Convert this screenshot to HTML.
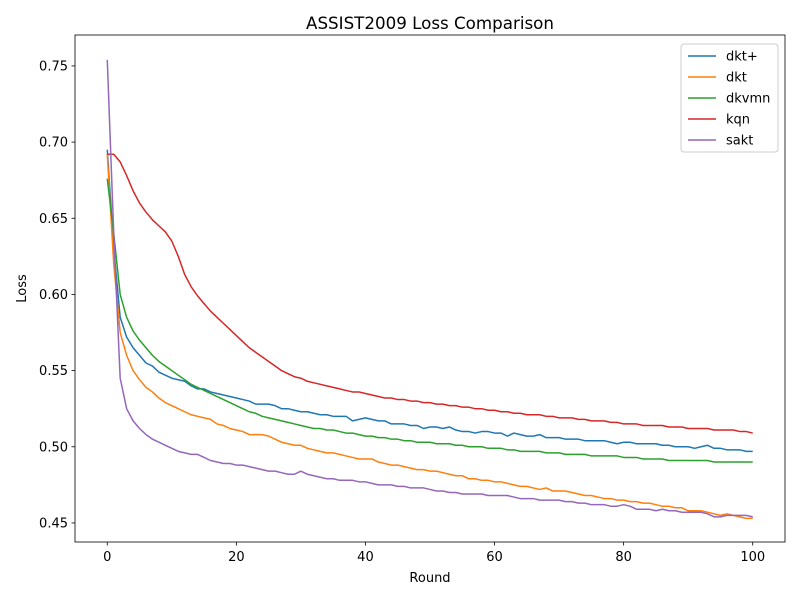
<!DOCTYPE html>
<html><head><meta charset="utf-8"><style>
body{margin:0;background:#fff;}
svg{display:block;font-family:"DejaVu Sans","Liberation Sans",sans-serif;}
</style></head><body>
<svg id="chart" width="800" height="600"></svg>
<script>
const rounds = Array.from({length:101},(_,i)=>i);
const seriesNames = ["dkt+","dkt","dkvmn","kqn","sakt"];
const seriesColors = ["#1f77b4","#ff7f0e","#2ca02c","#d62728","#9467bd"];
const dktPlus = [0.695,0.63,0.585,0.572,0.565,0.56,0.555,0.553,0.549,0.547,0.545,0.544,0.543,0.540,0.538,0.538,0.536,0.535,0.534,0.533,0.532,0.531,0.530,0.528,0.528,0.528,0.527,0.525,0.525,0.524,0.523,
.523,.522,.521,.521,.520,.520,.520,.517,.518,.519,.518,.517,.517,.515,.515,.515,.514,.514,.512,.513,.513,.512,.513,.511,.510,.510,.509,.510,.510,.509,.509,.507,.509,.508,.507,.507,.508,.506,.506,.506,.505,.505,.505,.504,.504,.504,.504,.503,.502,.503,.503,.502,.502,.502,.502,.501,.501,.500,.500,.500,.499,.500,.501,.499,.499,.498,.498,.498,.497,.497];
const dkt = [0.692,0.62,0.575,0.56,0.55,0.544,0.539,0.536,0.532,0.529,0.527,0.525,0.523,0.521,0.520,0.519,0.518,0.515,0.514,0.512,0.511,0.510,0.508,0.508,0.508,0.507,0.505,0.503,0.502,0.501,0.501,
.499,.498,.497,.496,.496,.495,.494,.493,.492,.492,.492,.490,.489,.488,.488,.487,.486,.485,.485,.484,.484,.483,.482,.481,.481,.479,.479,.478,.478,.477,.477,.476,.475,.474,.474,.473,.472,.473,.471,.471,.471,.470,.469,.468,.468,.467,.466,.466,.465,.465,.464,.464,.463,.463,.462,.461,.461,.460,.460,.458,.458,.458,.457,.456,.455,.456,.455,.454,.453,.453];
const dkvmn = [0.676,0.64,0.60,0.585,0.576,0.570,0.565,0.560,0.556,0.553,0.550,0.547,0.544,0.541,0.539,0.537,0.535,0.533,0.531,0.529,0.527,0.525,0.523,0.522,0.520,0.519,0.518,0.517,0.516,0.515,0.514,
.513,.512,.512,.511,.511,.510,.509,.509,.508,.507,.507,.506,.506,.505,.505,.504,.504,.503,.503,.503,.502,.502,.502,.501,.501,.500,.500,.500,.499,.499,.499,.498,.498,.497,.497,.497,.497,.496,.496,.496,.495,.495,.495,.495,.494,.494,.494,.494,.494,.493,.493,.493,.492,.492,.492,.492,.491,.491,.491,.491,.491,.491,.491,.490,.490,.490,.490,.490,.490,.490];
const kqn = [0.692,0.692,0.687,0.678,0.668,0.660,0.654,0.649,0.645,0.641,0.635,0.625,0.613,0.605,0.599,0.594,0.589,0.585,0.581,0.577,0.573,0.569,0.565,0.562,0.559,0.556,0.553,0.550,0.548,0.546,0.545,0.543,0.542,0.541,0.540,0.539,0.538,0.537,0.536,0.536,0.535,
.534,.533,.532,.532,.531,.531,.530,.530,.529,.529,.528,.528,.527,.527,.526,.526,.525,.525,.524,.524,.523,.523,.522,.522,.521,.521,.521,.520,.520,.519,.519,.519,.518,.518,.517,.517,.517,.516,.516,.515,.515,.515,.514,.514,.514,.514,.513,.513,.513,.512,.512,.512,.512,.511,.511,.511,.511,.510,.510,.509];
const sakt = [0.754,0.64,0.545,0.525,0.517,0.512,0.508,0.505,0.503,0.501,0.499,0.497,0.496,0.495,0.495,0.493,0.491,0.490,0.489,0.489,0.488,0.488,0.487,0.486,0.485,0.484,0.484,0.483,0.482,0.482,0.484,0.482,0.481,0.480,0.479,0.479,0.478,0.478,0.478,0.477,0.477,
.476,.475,.475,.475,.474,.474,.473,.473,.473,.472,.471,.471,.470,.470,.469,.469,.469,.469,.468,.468,.468,.468,.467,.466,.466,.466,.465,.465,.465,.465,.464,.464,.463,.463,.462,.462,.462,.461,.461,.462,.461,.459,.459,.459,.458,.459,.458,.458,.457,.457,.457,.457,.456,.454,.454,.455,.455,.455,.455,.454];
const seriesValues = [dktPlus,dkt,dkvmn,kqn,sakt];
const xTicks = [0,20,40,60,80,100];
const yTicks = [0.45,0.50,0.55,0.60,0.65,0.70,0.75];

const L=75,R=785,T=35,B=542;
const xMin=-5,xMax=105,yMin=0.4375,yMax=0.7703;
const xs=v=>L+(v-xMin)/(xMax-xMin)*(R-L);
const ys=v=>B-(v-yMin)/(yMax-yMin)*(B-T);
const NS="http://www.w3.org/2000/svg";
const svg=document.getElementById('chart');
function mk(tag,attrs,parent){const e=document.createElementNS(NS,tag);for(const k in attrs)e.setAttribute(k,attrs[k]);(parent||svg).appendChild(e);return e;}

const title=mk('text',{x:(L+R)/2,y:29,'text-anchor':'middle','font-size':16.7,fill:'#000'});


title.textContent='ASSIST2009 Loss Comparison';

const lines=mk('g',{});


seriesValues.forEach((vals,si)=>{
  const d=vals.map((v,i)=>(i?'L':'M')+xs(rounds[i]).toFixed(2)+','+ys(v).toFixed(2)).join(' ');
  const p=mk('path',{d:d,fill:'none',stroke:seriesColors[si],'stroke-width':1.5,'stroke-linejoin':'round'},lines);
  
  
});

const frame=mk('rect',{x:L,y:T,width:R-L,height:B-T,fill:'none',stroke:'#000','stroke-width':0.8});



const xa=mk('g',{});


xTicks.forEach(t=>{
  mk('line',{x1:xs(t),x2:xs(t),y1:B,y2:B+3.5,stroke:'#000','stroke-width':0.8},xa);
  const tx=mk('text',{x:xs(t),y:B+19,'text-anchor':'middle','font-size':13},xa);
  
  
  tx.textContent=t;
});
const xt=mk('text',{x:(L+R)/2,y:582,'text-anchor':'middle','font-size':13});


xt.textContent='Round';

const ya=mk('g',{});


yTicks.forEach(t=>{
  mk('line',{x1:L-3.5,x2:L,y1:ys(t),y2:ys(t),stroke:'#000','stroke-width':0.8},ya);
  const tx=mk('text',{x:L-7,y:ys(t)+4.5,'text-anchor':'end','font-size':13},ya);
  
  
  tx.textContent=t.toFixed(2);
});
const yt=mk('text',{x:26,y:(T+B)/2,'text-anchor':'middle','font-size':13,transform:'rotate(-90 26 '+((T+B)/2)+')'});


yt.textContent='Loss';

const lg=mk('g',{});


mk('rect',{x:681,y:44,width:97,height:108,rx:3,fill:'#fff','fill-opacity':0.8,stroke:'#ccc','stroke-width':1},lg);
seriesNames.forEach((n,i)=>{
  const y=56+i*21;
  const g=mk('g',{},lg);
  
  
  mk('line',{x1:688,x2:716,y1:y,y2:y,stroke:seriesColors[i],'stroke-width':1.5},g);
  const tx=mk('text',{x:726,y:y+4.5,'font-size':13},g);
  tx.textContent=n;
});
</script>
</body></html>
